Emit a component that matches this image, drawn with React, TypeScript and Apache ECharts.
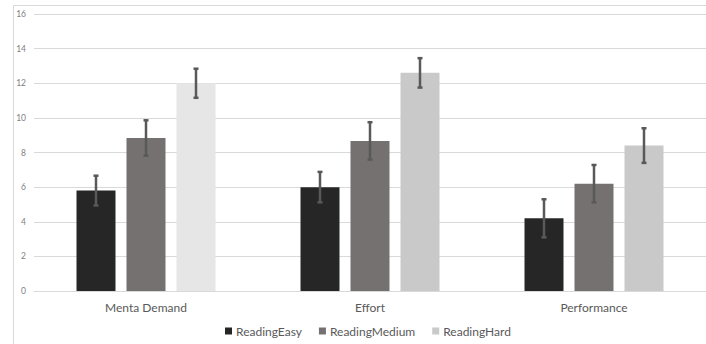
import React, { useEffect, useRef } from "react";
import * as echarts from "echarts";

const categories = ["Menta Demand", "Effort", "Performance"];
const seriesNames = ["ReadingEasy", "ReadingMedium", "ReadingHard"];
const easyValues = [5.8, 6.0, 4.2];
const mediumValues = [8.84, 8.67, 6.2];
const hardValues = [12.0, 12.6, 8.4];
const easyErrors = [0.86, 0.88, 1.1];
const mediumErrors = [1.02, 1.08, 1.08];
const hardErrors = [0.84, 0.85, 1.0];
const yTicks = [0, 2, 4, 6, 8, 10, 12, 14, 16];

const FONT = "Lato, 'Open Sans', sans-serif";
const BAR_W = 39;
const BAR_GAP = 11;

export default function App() {
  const ref = useRef<HTMLDivElement>(null);
  useEffect(() => {
    const chart = echarts.init(ref.current!, null, { renderer: "svg" });
    const values = [easyValues, mediumValues, hardValues];
    const errors = [easyErrors, mediumErrors, hardErrors];
    const colors = ["#262626", "#767171", "#c9c9c9"];
    const hardColors = ["#e7e6e6", "#c9c9c9", "#c9c9c9"];

    const barSeries = values.map((vals, si) => ({
      name: seriesNames[si],
      type: "bar",
      barWidth: BAR_W,
      barGap: (BAR_GAP / BAR_W) * 100 + "%",
      itemStyle: { color: colors[si] },
      data: vals.map((v, ci) =>
        si === 2 ? { value: v, itemStyle: { color: hardColors[ci] } } : v
      ),
      z: 2,
    }));

    const errSeries = values.map((vals, si) => ({
      name: seriesNames[si] + "_err",
      type: "custom",
      z: 5,
      silent: true,
      data: vals.map((v, ci) => [ci, v - errors[si][ci], v + errors[si][ci]]),
      renderItem: (params: any, api: any) => {
        const ci = api.value(0);
        const lo = api.coord([ci, api.value(1)]);
        const hi = api.coord([ci, api.value(2)]);
        const x = lo[0] + (si - 1) * (BAR_W + BAR_GAP);
        const cap = 2.5;
        const style = { stroke: "#595959", lineWidth: 2.5 };
        return {
          type: "group",
          children: [
            { type: "line", shape: { x1: x, y1: lo[1], x2: x, y2: hi[1] }, style },
            { type: "line", shape: { x1: x - cap, y1: lo[1], x2: x + cap, y2: lo[1] }, style },
            { type: "line", shape: { x1: x - cap, y1: hi[1], x2: x + cap, y2: hi[1] }, style },
          ],
        };
      },
    }));

    chart.setOption({
      animation: false,
      textStyle: { fontFamily: FONT },
      graphic: [
        {
          type: "rect",
          left: 11,
          top: 3,
          shape: { width: 740, height: 400 },
          style: { fill: "none", stroke: "#d9d9d9", lineWidth: 1 },
          z: -1,
        },
      ],
      legend: {
        data: seriesNames.map((n, i) => ({ name: n, itemStyle: { color: colors[i] } })),
        left: 220,
        top: 320,
        itemWidth: 7,
        itemHeight: 7,
        itemGap: 17,
        icon: "rect",
        textStyle: { color: "#595959", fontSize: 12, fontFamily: FONT, padding: [0, 0, 0, -1] },
      },
      grid: { left: 34, top: 14, width: 675, height: 277 },
      xAxis: {
        type: "category",
        data: categories,
        axisLine: { lineStyle: { color: "#d9d9d9" } },
        axisTick: { show: false },
        axisLabel: { color: "#595959", fontSize: 12, margin: 10, fontFamily: FONT },
      },
      yAxis: {
        type: "value",
        min: yTicks[0],
        max: yTicks[yTicks.length - 1],
        interval: 2,
        axisLine: { show: false },
        axisTick: { show: false },
        splitLine: { lineStyle: { color: "#d9d9d9" } },
        axisLabel: { color: "#7f7f7f", fontSize: 8.5, margin: 8, fontFamily: FONT },
      },
      series: [...barSeries, ...errSeries],
    });
    return () => chart.dispose();
  }, []);
  return (
    <div
      ref={ref}
      style={{ position: "fixed", left: 0, top: 0, width: 706, height: 344, background: "#fff" }}
    />
  );
}
